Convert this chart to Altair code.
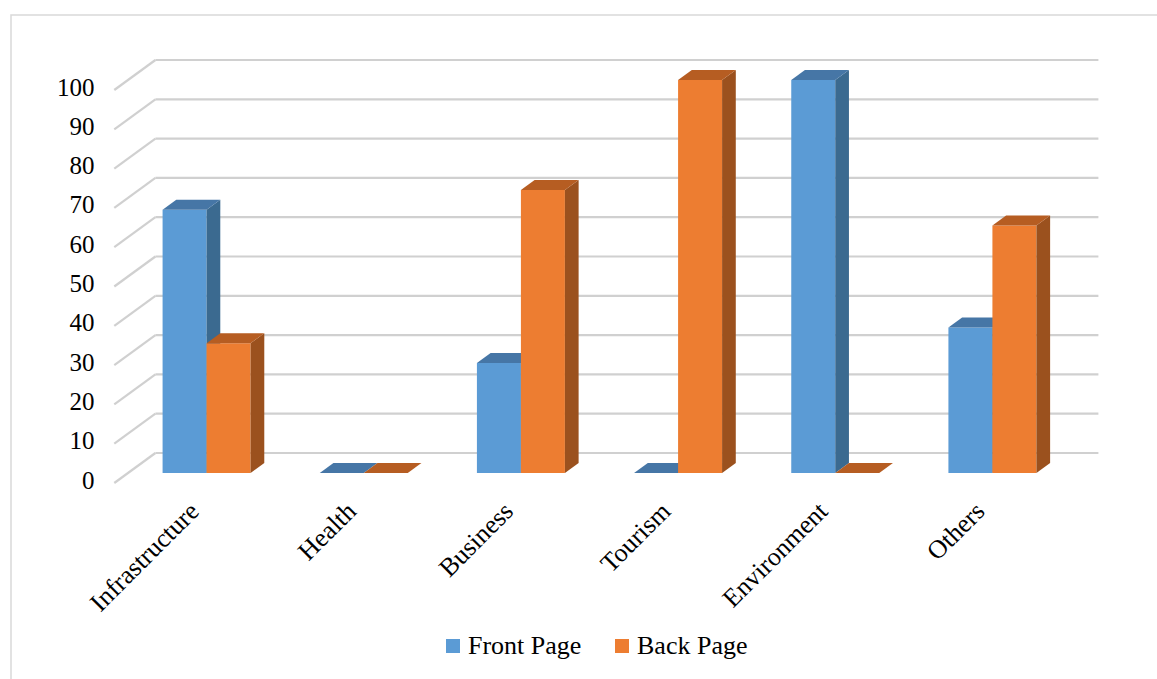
import altair as alt
import pandas as pd

# ---------------- data ----------------
categories = ["Infrastructure", "Health", "Business", "Tourism", "Environment", "Others"]
series_names = ["Front Page", "Back Page"]
front_page = [67, 0, 28, 0, 100, 37]
back_page = [33, 0, 72, 100, 0, 63]
y_ticks = [0, 10, 20, 30, 40, 50, 60, 70, 80, 90, 100]

# ---------------- style ----------------
FONT = "Liberation Serif"
front_colors = {"Front Page": "#5B9BD5", "Back Page": "#ED7D31"}
top_colors = {"Front Page": "#4676A6", "Back Page": "#B65D22"}
side_colors = {"Front Page": "#3B6A90", "Back Page": "#9B511E"}
GRID = "#D0D0D0"

W_PX, H_PX = 943, 393          # plot area = front plane of the bars
PXX = W_PX / len(categories)   # pixels per x unit
PXY = H_PX / 100.0             # pixels per value unit
BAR_W = 44 / PXX               # bar width in x units
DX = 13.7 / PXX                # 3-D depth step (x)
DY = 10.0 / PXY                # 3-D depth step (y)

# ---------------- tables ----------------
bars, sides, tops = [], [], []
for i, cat in enumerate(categories):
    for s, (name, vals) in enumerate(zip(series_names, [front_page, back_page])):
        v = vals[i]
        x0 = i + 0.5 - BAR_W + s * BAR_W
        x1 = x0 + BAR_W
        bid = f"{cat}-{name}"
        bars.append(dict(id=bid, series=name, x0=x0, x1=x1, v=v, zero=0))
        sides += [
            dict(id=bid, series=name, x=x1, y=v, y2=0, c=side_colors[name]),
            dict(id=bid, series=name, x=x1 + DX, y=v + DY, y2=DY, c=side_colors[name]),
        ]
        tops += [
            dict(id=bid, series=name, x=x0, y=v, y2=v, c=top_colors[name]),
            dict(id=bid, series=name, x=x0 + DX, y=v + DY, y2=v, c=top_colors[name]),
            dict(id=bid, series=name, x=x1, y=v + DY, y2=v, c=top_colors[name]),
            dict(id=bid, series=name, x=x1 + DX, y=v + DY, y2=v + DY, c=top_colors[name]),
        ]
bars = pd.DataFrame(bars)
sides = pd.DataFrame(sides)
tops = pd.DataFrame(tops)

grid = pd.DataFrame(dict(
    v=y_ticks,
    wx0=[2 * DX] * len(y_ticks),
    wx1=[len(categories) + 2 * DX] * len(y_ticks),
    wy=[t + 2 * DY for t in y_ticks],
    fx=[-DX] * len(y_ticks),
    fy=[t - DY for t in y_ticks],
))

labels = pd.DataFrame(dict(cat=categories, x=[i + 0.5 - 21 / PXX for i in range(len(categories))]))

xs = alt.Scale(domain=[0, len(categories)], nice=False, zero=False)
ys = alt.Scale(domain=[0, 100], nice=False, zero=False)

y_axis = alt.Axis(values=y_ticks, title=None, grid=False, domain=False, ticks=False,
                  labelFont=FONT, labelFontSize=25, labelColor="#000000",
                  labelPadding=34, labelOffset=7)

# back-wall gridlines and their diagonal floor-to-wall segments
wall = alt.Chart(grid).mark_rule(color=GRID, strokeWidth=2.2).encode(
    x=alt.X("wx0:Q", scale=xs, axis=None), x2="wx1:Q",
    y=alt.Y("wy:Q", scale=ys, axis=y_axis), y2="wy:Q",
)
diag = alt.Chart(grid).mark_rule(color=GRID, strokeWidth=2.2).encode(
    x=alt.X("fx:Q", scale=xs, axis=None), x2="wx0:Q",
    y=alt.Y("fy:Q", scale=ys, axis=y_axis), y2="wy:Q",
)

layers = [wall, diag]
for name in series_names:
    b = bars[bars.series == name]
    sd = sides[sides.series == name]
    tp = tops[tops.series == name]
    front_layer = alt.Chart(b).mark_rect().encode(
        x=alt.X("x0:Q", scale=xs, axis=None), x2="x1:Q",
        y=alt.Y("v:Q", scale=ys, axis=y_axis),
        y2="zero:Q",
        color=alt.Color("series:N",
                        scale=alt.Scale(domain=series_names,
                                        range=[front_colors[n] for n in series_names]),
                        legend=alt.Legend(title=None, orient="none", direction="horizontal",
                                          legendX=312, legendY=553, padding=0,
                                          symbolType="square", symbolSize=196,
                                          symbolStrokeWidth=0, labelFont=FONT,
                                          labelFontSize=26, labelColor="#000000",
                                          labelOffset=2, columnPadding=27)),
    )
    side_layer = alt.Chart(sd).mark_area(interpolate="linear").encode(
        x=alt.X("x:Q", scale=xs, axis=None),
        y=alt.Y("y:Q", scale=ys, axis=y_axis), y2="y2:Q",
        detail="id:N",
        fill=alt.Fill("c:N", scale=None),
    )
    top_layer = alt.Chart(tp).mark_area(interpolate="linear").encode(
        x=alt.X("x:Q", scale=xs, axis=None),
        y=alt.Y("y:Q", scale=ys, axis=y_axis), y2="y2:Q",
        detail="id:N",
        fill=alt.Fill("c:N", scale=None),
    )
    layers += [front_layer, side_layer, top_layer]

cat_text = alt.Chart(labels).mark_text(
    angle=315, align="right", baseline="top", font=FONT, fontSize=26, color="#000000"
).encode(
    x=alt.X("x:Q", scale=xs, axis=None),
    y=alt.value(H_PX + 25),
    text="cat:N",
)
layers.append(cat_text)

frame = alt.Chart(pd.DataFrame({"a": [0]})).mark_rect(
    fill=None, stroke="#D9D9D9", strokeWidth=1.5
).encode(
    x=alt.value(-117), x2=alt.value(W_PX + 200),
    y=alt.value(-65), y2=alt.value(H_PX + 300),
)

chart = alt.layer(frame, *layers).resolve_scale(fill="independent").properties(
    width=W_PX, height=H_PX,
    autosize=alt.AutoSizeParams(type="none"),
    padding={"left": 128, "top": 80, "right": 86, "bottom": 206},
    background="#FFFFFF",
).configure_view(stroke=None).configure_axis(
    labelFont=FONT, labelFontSize=25, labelColor="#000000"
).configure_text(font=FONT)

chart.save("out.html", embed_options={"renderer": "svg", "actions": False})
